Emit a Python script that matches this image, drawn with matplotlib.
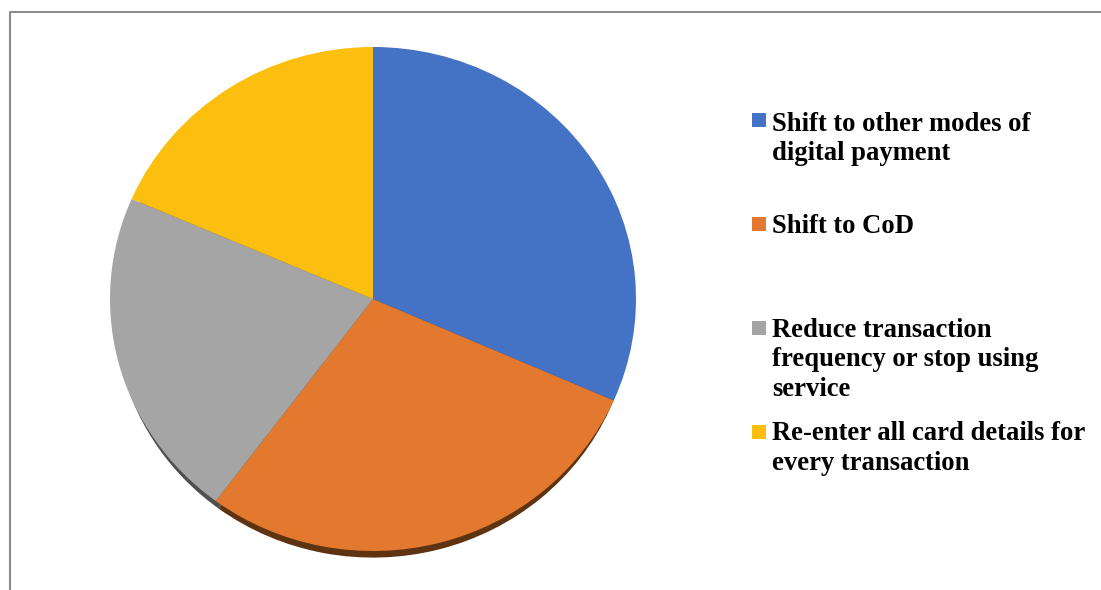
import numpy as np
import matplotlib.pyplot as plt

labels = ['Shift to other modes of\ndigital payment',
          'Shift to CoD',
          'Reduce transaction\nfrequency or stop using\nservice',
          'Re-enter all card details for\nevery transaction']
shares = [31.6, 28.6, 21.3, 18.5]

colors = ['#4472C4', '#E2792F', '#A5A5A5', '#FCBF10']
rim_colors = ['#22395F', '#5E3312', '#4F4F4F', '#7A5C00']

W, H = 1101, 590
fig = plt.figure(figsize=(W / 100, H / 100), dpi=100)

# pie box in pixels (top surface), plus a few px of rim below
px_l, px_r, px_t, px_b = 110, 636, 47, 551
rim = 11
ax = fig.add_axes([px_l / W, 1 - (px_b + rim) / H,
                   (px_r - px_l) / W, (px_b + rim - px_t) / H])
ry = (px_b - px_t) / 2
depth = rim / ry
# rim: slightly smaller copy pushed down, so it only shows along the bottom
ax.pie(shares, colors=rim_colors, startangle=90, counterclock=False,
       center=(0, -depth), radius=1 - 0.4 * depth)
ax.pie(shares, colors=colors, startangle=90, counterclock=False, radius=1)
ax.set_aspect('auto')
ax.set_xlim(-1, 1)
ax.set_ylim(-1 - depth, 1)
ax.axis('off')

# overlay in pixel coords for frame and legend
ov = fig.add_axes([0, 0, 1, 1])
ov.set_xlim(0, W)
ov.set_ylim(H, 0)
ov.axis('off')
ov.plot([10, 10, W], [H, 12, 12], color='#8C8C8C', lw=1.5)

marker_y = [120, 224, 328, 432]
text_y = [131, 233, 337, 440]
line_gap = 29.5
ov.scatter([759] * 4, marker_y, marker='s', s=100, c=colors, linewidths=0)
for lab, y in zip(labels, text_y):
    for i, line in enumerate(lab.split('\n')):
        ov.text(772, y + i * line_gap, line, family='Liberation Serif',
                weight='bold', fontsize=19.2, va='baseline', ha='left')

fig.savefig('out.png', dpi=100)
